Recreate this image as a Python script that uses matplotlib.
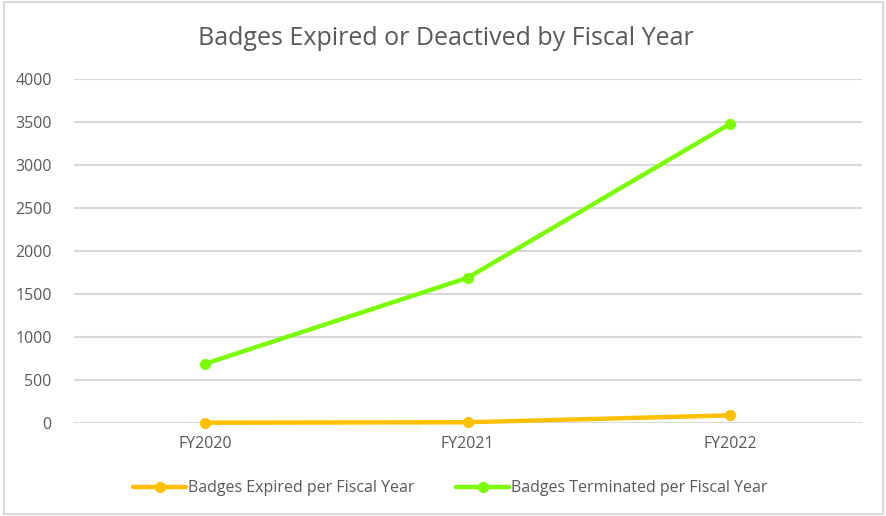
import matplotlib.pyplot as plt
from matplotlib.patches import Rectangle

years = ['FY2020', 'FY2021', 'FY2022']
expired = [5, 10, 90]
terminated = [690, 1690, 3480]

fig = plt.figure(figsize=(8.87, 5.16), dpi=100)
ax = fig.add_axes([0.0834, 0.180, 0.888, 0.667])

ax.plot(years, expired, color='#FFC000', lw=3.2, marker='o', ms=7,
        label='Badges Expired per Fiscal Year', solid_capstyle='round', clip_on=False)
ax.plot(years, terminated, color='#7CFC00', lw=3.2, marker='o', ms=7,
        label='Badges Terminated per Fiscal Year', solid_capstyle='round', clip_on=False)

ax.set_xlim(-0.5, 2.5)
ax.set_ylim(0, 4000)
ax.set_yticks(range(0, 4001, 500))
ax.grid(axis='y', color='#D9D9D9', lw=1.5)
ax.set_axisbelow(True)
for s in ax.spines.values():
    s.set_visible(False)
ax.tick_params(length=0, labelsize=11.5, labelcolor='#595959')
ax.tick_params(axis='y', pad=16)
ax.tick_params(axis='x', pad=9)
for t in ax.get_yticklabels() + ax.get_xticklabels():
    t.set_fontfamily('Open Sans')

fig.text(0.503, 0.925, 'Badges Expired or Deactived by Fiscal Year', ha='center', va='center',
         fontsize=18, color='#595959', family='Open Sans')

leg = fig.legend(loc='center', bbox_to_anchor=(0.508, 0.054), ncol=2, frameon=False,
                 handlelength=3.3, handletextpad=0.15, columnspacing=2.6,
                 prop={'family': 'Open Sans', 'size': 11.5})
for t in leg.get_texts():
    t.set_color('#595959')

fig.patches.append(Rectangle((0.004, 0.004), 0.992, 0.992, transform=fig.transFigure,
                             fill=False, edgecolor='#D9D9D9', lw=1.5))

fig.savefig('out.png', dpi=100)
